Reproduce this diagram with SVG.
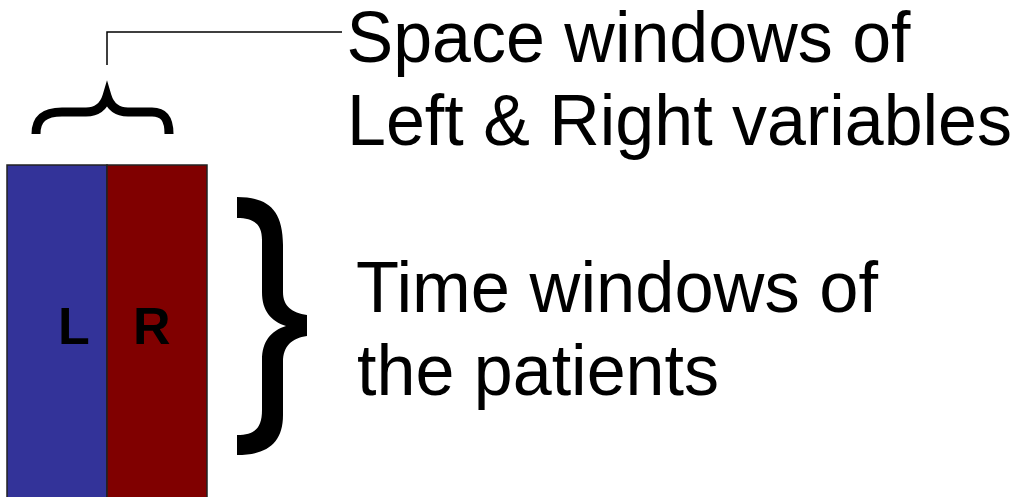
<svg xmlns="http://www.w3.org/2000/svg" width="1021" height="497" viewBox="0 0 1021 497">
<style>
.lbl{font-family:"Liberation Sans",Arial,sans-serif;font-size:72px;fill:#000}
.cell{font-family:"Liberation Sans",Arial,sans-serif;font-size:52px;font-weight:bold;fill:#000}
.conn{fill:none;stroke:#000;stroke-width:1.5}
</style>
<rect width="1021" height="497" fill="#fff"/>
<g id="left-column">
<rect x="7" y="165" width="100" height="340" fill="#333399" stroke="#222" stroke-width="1.5"/>
<text class="cell" x="58" y="344">L</text>
</g>
<g id="right-column">
<rect x="107" y="165" width="100" height="340" fill="#800000" stroke="#222" stroke-width="1.5"/>
<text class="cell" x="133" y="344">R</text>
</g>
<g id="space-brace">
<path d="M36,134 C36,119 44,112 62,112 L86,112 C98,112 104,106 107,96 C110,106 116,112 128,112 L152,112 C164,112 169,119 169,134" fill="none" stroke="#000" stroke-width="9"/>
</g>
<g id="time-brace">
<path d="M237,197 C266,197 283,208 283,245 L283,292 C283,306 292,313 307,315 L307,336 C292,338 283,346 283,362 L283,415 C283,444 266,455 237,455 L237,435 C255,435 262,428 262,410 L262,360 C262,341 271,331 286,326 C271,321 262,311 262,292 L262,240 C262,225 255,218 237,218 Z" fill="#000"/>
</g>
<g id="connectors">
<polyline class="conn" points="107,65 107,32 342,32"/>
</g>
<g id="space-label">
<text class="lbl" x="346.5" y="62" textLength="564" lengthAdjust="spacingAndGlyphs">Space windows of</text>
<text class="lbl" x="347" y="145" textLength="665" lengthAdjust="spacingAndGlyphs">Left &amp; Right variables</text>
</g>
<g id="time-label">
<text class="lbl" x="356" y="312" textLength="522" lengthAdjust="spacingAndGlyphs">Time windows of</text>
<text class="lbl" x="357" y="395" textLength="362" lengthAdjust="spacingAndGlyphs">the patients</text>
</g>
</svg>
